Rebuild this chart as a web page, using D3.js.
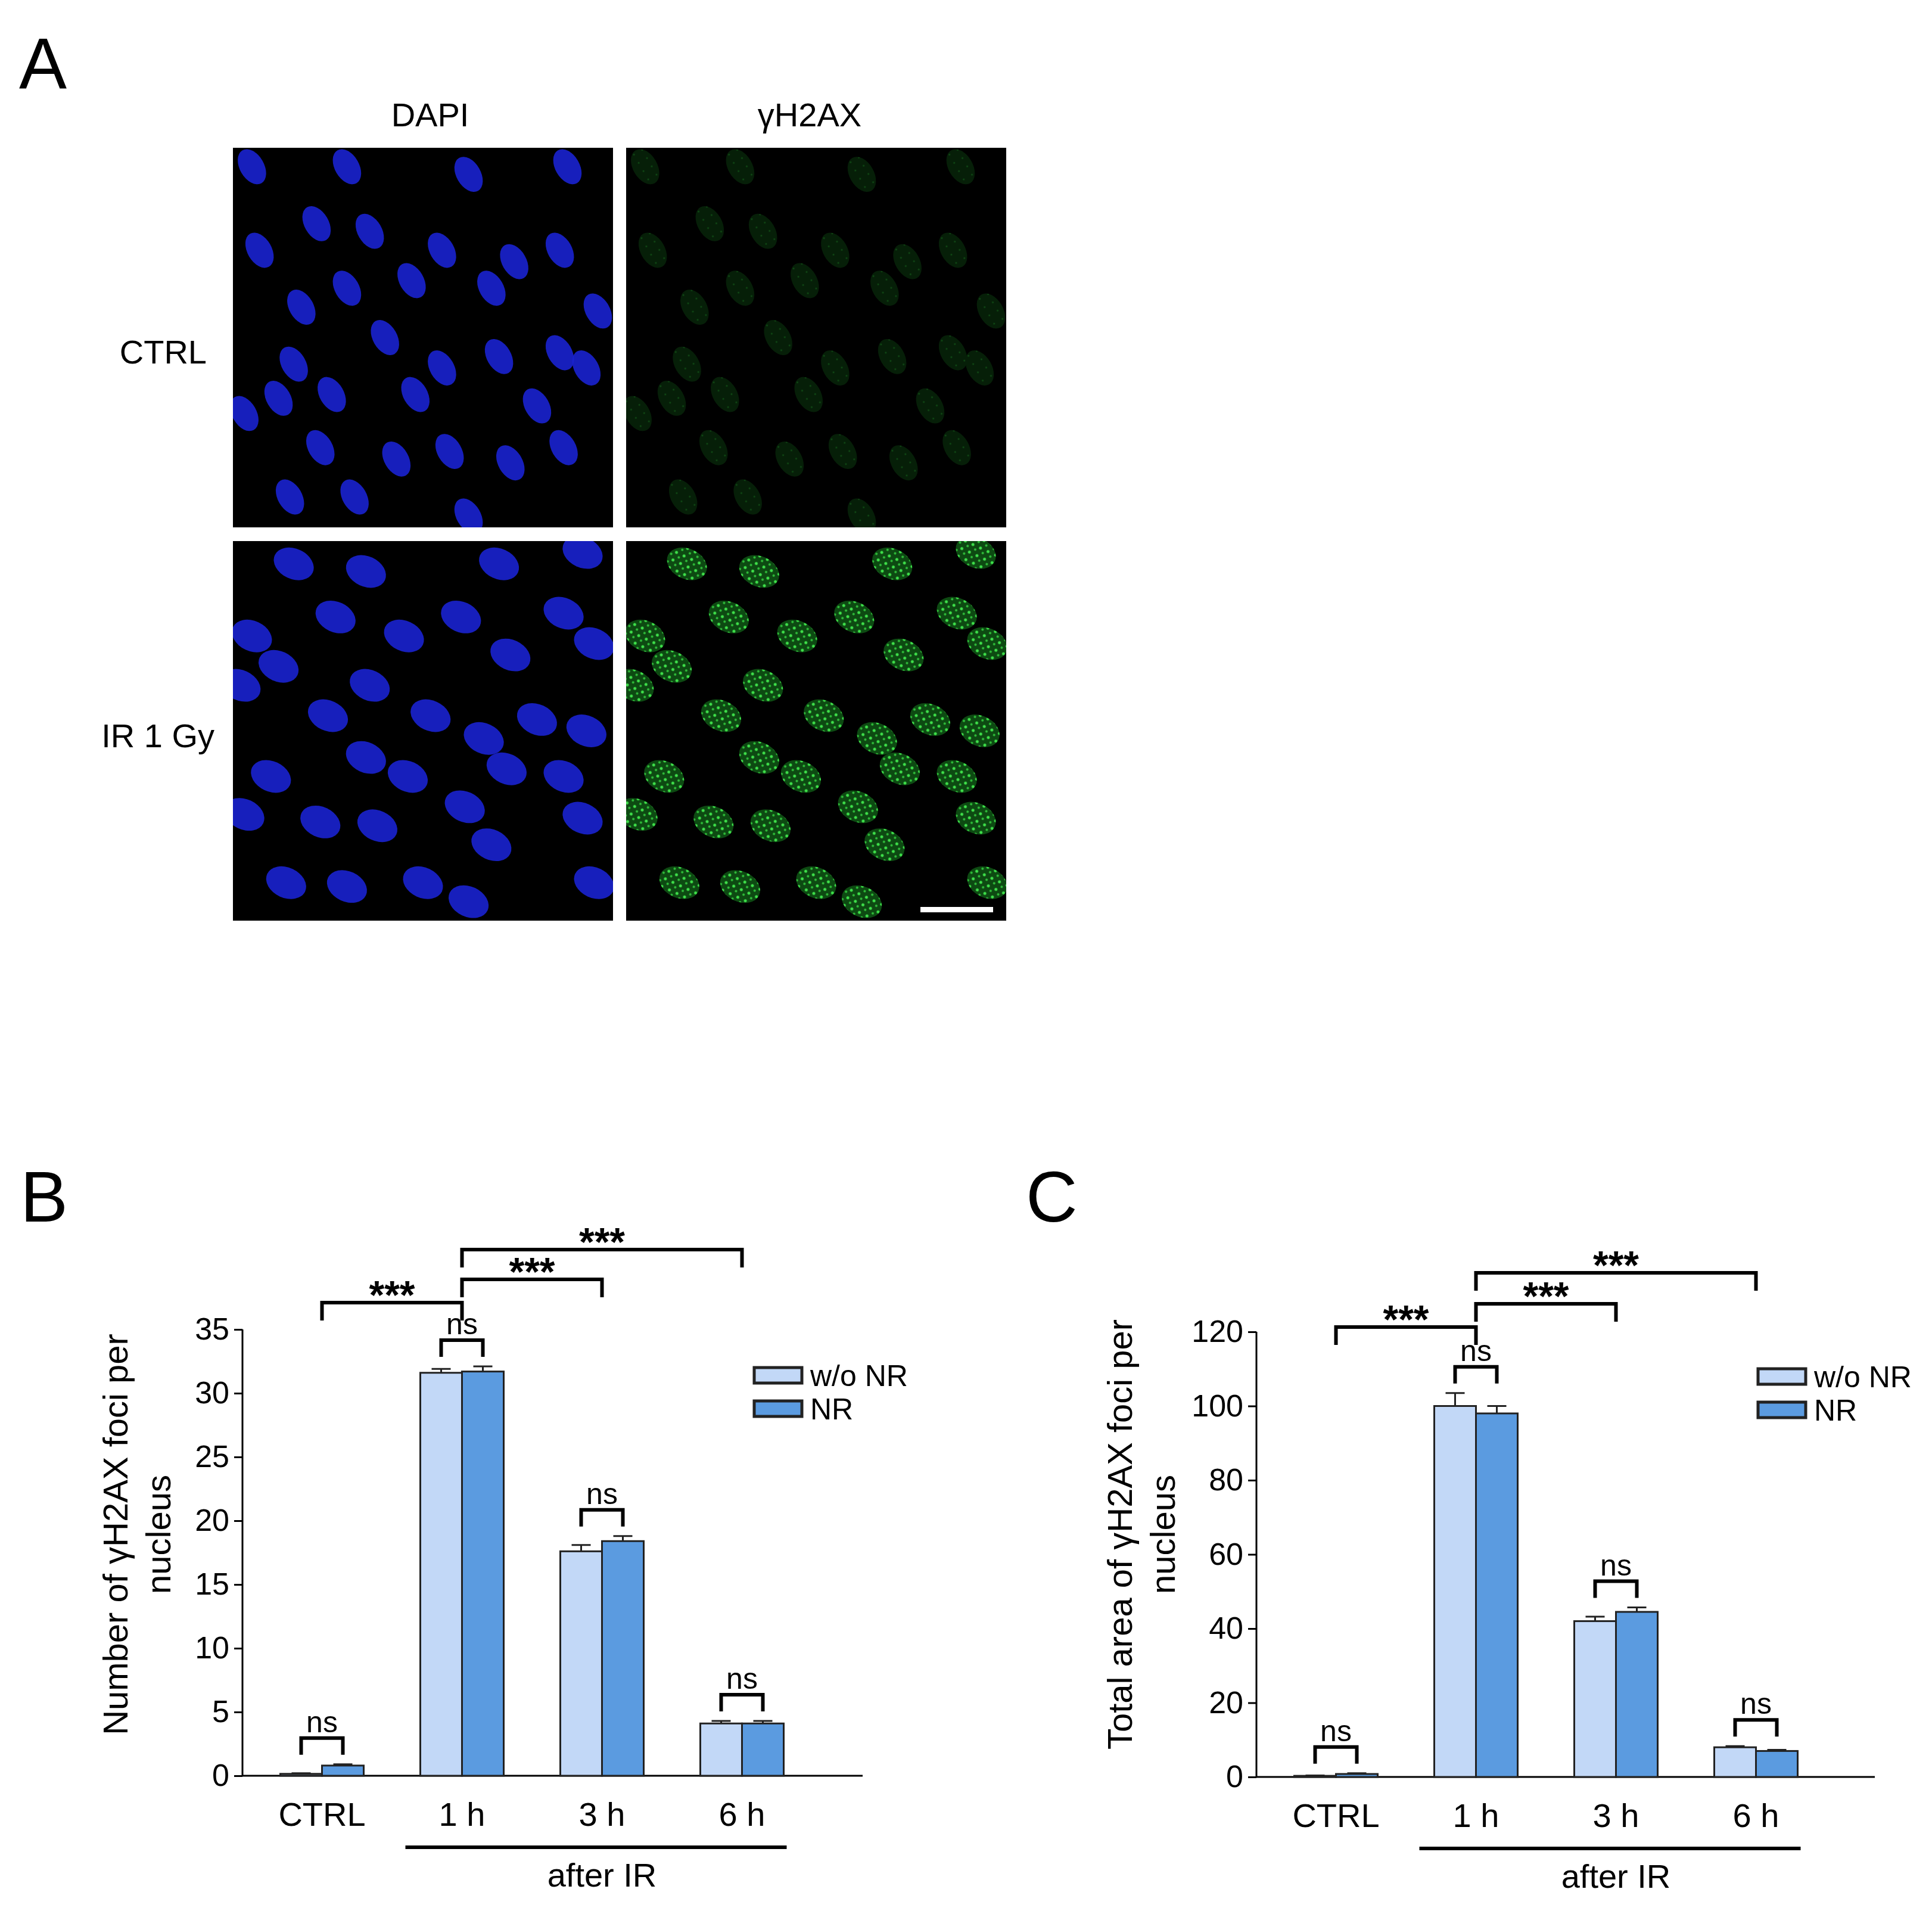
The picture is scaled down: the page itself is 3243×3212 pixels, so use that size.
<!DOCTYPE html>
<html>
<head>
<meta charset="utf-8">
<script src="https://cdn.jsdelivr.net/npm/d3@7"></script>
<style>
  body { margin: 0; background: #fff; }
  text { font-family: "Liberation Sans", Arial, sans-serif; fill: #000; }
</style>
</head>
<body>
<script>
// ---- data ----
var categories = ["CTRL", "1 h", "3 h", "6 h"];
var seriesNames = ["w/o NR", "NR"];
var fociCount = [[0.15, 0.8], [31.6, 31.7], [17.6, 18.4], [4.1, 4.1]];
var fociCountErr = [[0.05, 0.1], [0.3, 0.4], [0.5, 0.4], [0.2, 0.2]];
var fociArea = [[0.3, 0.8], [100, 98], [42, 44.5], [8, 7]];
var fociAreaErr = [[0.1, 0.2], [3.5, 2], [1.2, 1.2], [0.3, 0.3]];
var ticksB = [0, 5, 10, 15, 20, 25, 30, 35];
var ticksC = [0, 20, 40, 60, 80, 100, 120];
// significance: [from group, to group, label]
var sigTests = [[0, 1, "***"], [1, 2, "***"], [1, 3, "***"]];
// nuclei centres in image fractions
var ctrlNuclei = [[0.05,0.05],[0.3,0.05],[0.62,0.07],[0.88,0.05],[0.07,0.27],[0.22,0.2],[0.36,0.22],[0.55,0.27],[0.74,0.3],[0.86,0.27],[0.18,0.42],[0.3,0.37],[0.47,0.35],[0.68,0.37],[0.96,0.43],[0.16,0.57],[0.4,0.5],[0.55,0.58],[0.7,0.55],[0.86,0.54],[0.03,0.7],[0.12,0.66],[0.26,0.65],[0.48,0.65],[0.8,0.68],[0.93,0.58],[0.23,0.79],[0.43,0.82],[0.57,0.8],[0.73,0.83],[0.87,0.79],[0.15,0.92],[0.32,0.92],[0.62,0.97]];
var irNuclei = [[0.16,0.06],[0.35,0.08],[0.7,0.06],[0.92,0.03],[0.05,0.25],[0.27,0.2],[0.45,0.25],[0.6,0.2],[0.87,0.19],[0.02,0.38],[0.12,0.33],[0.36,0.38],[0.73,0.3],[0.95,0.27],[0.25,0.46],[0.52,0.46],[0.66,0.52],[0.8,0.47],[0.93,0.5],[0.1,0.62],[0.35,0.57],[0.46,0.62],[0.72,0.6],[0.87,0.62],[0.03,0.72],[0.23,0.74],[0.38,0.75],[0.61,0.7],[0.68,0.8],[0.92,0.73],[0.14,0.9],[0.3,0.91],[0.5,0.9],[0.62,0.95],[0.95,0.9]];

var colors = ["#c2d8f7", "#5b9be0"];

var svg = d3.select("body").append("svg").attr("width", 3243).attr("height", 3212);

var defs = svg.append("defs");
var pat = defs.append("pattern").attr("id", "foci").attr("width", 14).attr("height", 14)
    .attr("patternUnits", "userSpaceOnUse");
pat.append("rect").attr("width", 14).attr("height", 14).attr("fill", "#0d4a12");
pat.append("circle").attr("cx", 4).attr("cy", 4).attr("r", 2.5).attr("fill", "#3ee04a");
pat.append("circle").attr("cx", 11).attr("cy", 10).attr("r", 2).attr("fill", "#2fbf3a");
var pat2 = defs.append("pattern").attr("id", "fociDim").attr("width", 16).attr("height", 16)
    .attr("patternUnits", "userSpaceOnUse");
pat2.append("rect").attr("width", 16).attr("height", 16).attr("fill", "#061f08");
pat2.append("circle").attr("cx", 5).attr("cy", 6).attr("r", 1.5).attr("fill", "#0f4a14");

// ---- panel A ----
svg.append("text").attr("x", 32).attr("y", 148).attr("font-size", 120).text("A");
svg.append("text").attr("x", 722).attr("y", 212).attr("font-size", 56).attr("text-anchor", "middle").text("DAPI");
svg.append("text").attr("x", 1359).attr("y", 212).attr("font-size", 56).attr("text-anchor", "middle").text("γH2AX");
svg.append("text").attr("x", 347).attr("y", 610).attr("font-size", 56).attr("text-anchor", "end").text("CTRL");
svg.append("text").attr("x", 360).attr("y", 1254).attr("font-size", 56).attr("text-anchor", "end").text("IR 1 Gy");

var imgs = [
  { x: 391, y: 248, nuclei: ctrlNuclei, fill: "#1a22d0", rot: 60, rx: 0.05, ry: 0.032 },
  { x: 1051, y: 248, nuclei: ctrlNuclei, fill: "url(#fociDim)", rot: 60, rx: 0.05, ry: 0.032 },
  { x: 391, y: 908, nuclei: irNuclei, fill: "#1a22d0", rot: 25, rx: 0.055, ry: 0.04 },
  { x: 1051, y: 908, nuclei: irNuclei, fill: "url(#foci)", rot: 25, rx: 0.055, ry: 0.04 }
];
var imgW = 638, imgH = 637;
imgs.forEach(function(im, k) {
  var g = svg.append("g").attr("transform", "translate(" + im.x + "," + im.y + ")");
  var cid = "clip" + k;
  defs.append("clipPath").attr("id", cid).append("rect").attr("width", imgW).attr("height", imgH);
  g.append("rect").attr("width", imgW).attr("height", imgH).attr("fill", "#000");
  var sx = d3.scaleLinear().domain([0, 1]).range([0, imgW]);
  var sy = d3.scaleLinear().domain([0, 1]).range([0, imgH]);
  g.append("g").attr("clip-path", "url(#" + cid + ")").selectAll("ellipse").data(im.nuclei).enter()
    .append("ellipse")
    .attr("rx", sx(im.rx)).attr("ry", sy(im.ry))
    .attr("transform", function(d) { return "translate(" + sx(d[0]) + "," + sy(d[1]) + ") rotate(" + im.rot + ")"; })
    .attr("fill", im.fill).attr("opacity", k % 2 === 0 ? 0.9 : 1);
});
svg.append("rect").attr("x", 1545).attr("y", 1522).attr("width", 122).attr("height", 9).attr("fill", "#fff");

// ---- bar panels ----
function barPanel(o) {
  svg.append("text").attr("x", o.letterX).attr("y", 2050).attr("font-size", 120).text(o.letter);
  var y = d3.scaleLinear().domain([0, o.max]).range([o.y0, o.yTop]);
  var x = d3.scaleBand().domain(categories).range([o.x0 + 16, o.x0 + 16 + 4 * 235]).paddingInner(0.4).paddingOuter(0.2);
  var bw = 70;
  var cx = function(i) { return x(categories[i]) + x.bandwidth() / 2; };

  var ax = svg.append("g").attr("transform", "translate(" + o.x0 + ",0)")
    .call(d3.axisLeft(y).tickValues(o.ticks).tickSize(14).tickPadding(8));
  ax.select(".domain").attr("stroke-width", 3).attr("d", "M0," + o.yTop + "V" + o.y0);
  ax.selectAll(".tick line").attr("stroke-width", 3);
  ax.selectAll("text").attr("font-size", 52).attr("font-family", "Liberation Sans, Arial, sans-serif");
  svg.append("line").attr("x1", o.x0).attr("x2", o.xEnd).attr("y1", o.y0).attr("y2", o.y0)
    .attr("stroke", "#000").attr("stroke-width", 3);

  categories.forEach(function(c, i) {
    o.values[i].forEach(function(v, s) {
      var bx = cx(i) - bw + s * bw;
      var top = y(v + o.errs[i][s]);
      var mid = bx + bw / 2;
      svg.append("line").attr("x1", mid).attr("x2", mid).attr("y1", y(v)).attr("y2", top).attr("stroke", "#222").attr("stroke-width", 3);
      svg.append("line").attr("x1", mid - 16).attr("x2", mid + 16).attr("y1", top).attr("y2", top).attr("stroke", "#222").attr("stroke-width", 3);
      svg.append("rect").attr("x", bx).attr("y", y(v)).attr("width", bw).attr("height", o.y0 - y(v))
        .attr("fill", colors[s]).attr("stroke", "#222").attr("stroke-width", 3);
    });
    svg.append("text").attr("x", cx(i)).attr("y", o.y0 + 84).attr("text-anchor", "middle").attr("font-size", 56).text(c);
    // ns bracket
    var hi = d3.max(o.values[i].map(function(v, s) { return y(v + o.errs[i][s]); }).map(function(p) { return -p; }));
    var by = -hi - 44;
    var l = cx(i) - bw / 2, r = cx(i) + bw / 2;
    svg.append("path").attr("d", "M" + l + "," + (by + 28) + "V" + by + "H" + r + "V" + (by + 28))
      .attr("fill", "none").attr("stroke", "#000").attr("stroke-width", 6);
    svg.append("text").attr("x", cx(i)).attr("y", by - 10).attr("text-anchor", "middle").attr("font-size", 50).text("ns");
  });

  // after IR
  svg.append("line").attr("x1", cx(1) - 95).attr("x2", cx(3) + 75).attr("y1", o.y0 + 120).attr("y2", o.y0 + 120)
    .attr("stroke", "#000").attr("stroke-width", 6);
  svg.append("text").attr("x", (cx(1) + cx(3)) / 2).attr("y", o.y0 + 186).attr("text-anchor", "middle").attr("font-size", 56).text("after IR");

  // significance brackets
  sigTests.forEach(function(t, k) {
    var by = o.sigY[k];
    var a = cx(t[0]), b = cx(t[1]);
    svg.append("path").attr("d", "M" + a + "," + (by + 30) + "V" + by + "H" + b + "V" + (by + 30))
      .attr("fill", "none").attr("stroke", "#000").attr("stroke-width", 6);
    svg.append("text").attr("x", (a + b) / 2).attr("y", by + 10).attr("text-anchor", "middle").attr("font-size", 66).attr("font-weight", "bold").text(t[2]);
  });

  // legend
  seriesNames.forEach(function(n, s) {
    var ly = o.legY + s * 56;
    svg.append("rect").attr("x", o.legX).attr("y", ly - 13).attr("width", 80).attr("height", 26)
      .attr("fill", colors[s]).attr("stroke", "#222").attr("stroke-width", 5);
    svg.append("text").attr("x", o.legX + 94).attr("y", ly + 18).attr("font-size", 50).text(n);
  });

  // y label
  var yl = svg.append("text").attr("transform", "translate(" + o.labX + ",2575) rotate(-90)")
    .attr("text-anchor", "middle").attr("font-size", 58);
  yl.append("tspan").attr("x", 0).attr("dy", 0).text(o.label);
  yl.append("tspan").attr("x", 0).attr("dy", 72).text("nucleus");
}

barPanel({ letter: "B", letterX: 34, x0: 407, xEnd: 1448, y0: 2980, yTop: 2231, max: 35, ticks: ticksB,
  values: fociCount, errs: fociCountErr, sigY: [2186, 2147, 2097], legX: 1266, legY: 2308, labX: 214,
  label: "Number of γH2AX foci per" });
barPanel({ letter: "C", letterX: 1722, x0: 2109, xEnd: 3147, y0: 2982, yTop: 2235, max: 120, ticks: ticksC,
  values: fociArea, errs: fociAreaErr, sigY: [2227, 2188, 2136], legX: 2951, legY: 2310, labX: 1900,
  label: "Total area of γH2AX foci per" });
</script>
</body>
</html>
